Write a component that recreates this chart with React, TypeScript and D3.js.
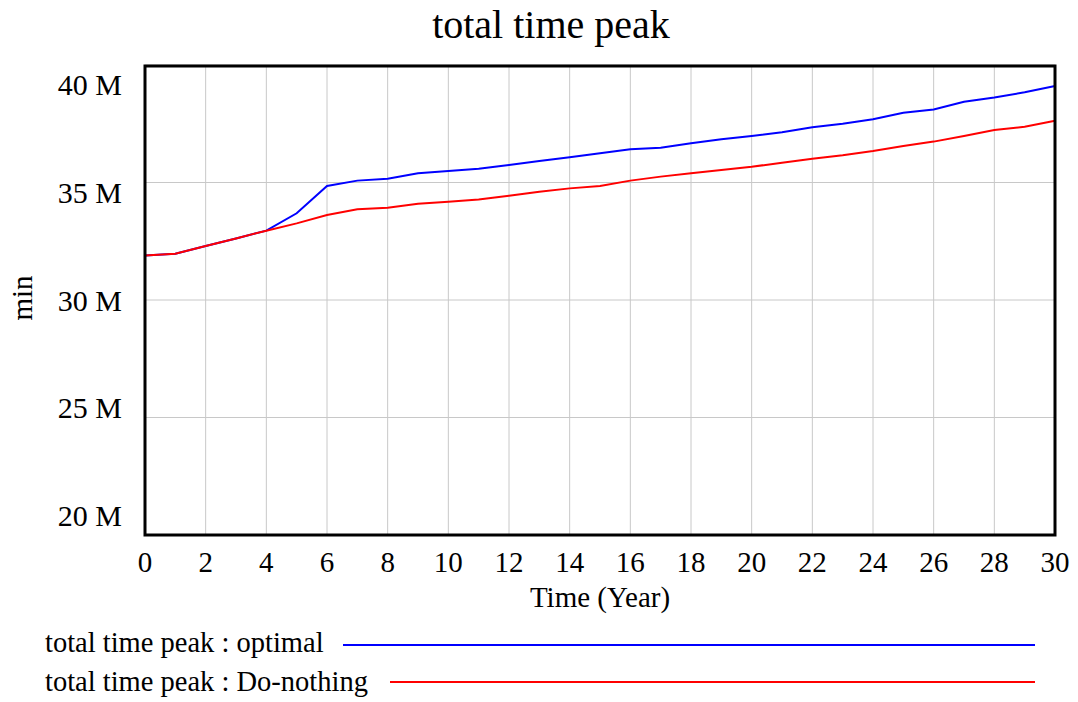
import { line, range, scaleLinear } from 'd3';

const years = range(0, 31);

// millions of minutes
const optimal = [
  31.89, 31.97, 32.3, 32.62, 32.95, 33.69, 34.85, 35.08, 35.16, 35.39, 35.49,
  35.59, 35.74, 35.91, 36.07, 36.24, 36.41, 36.48, 36.67, 36.84, 36.98, 37.14,
  37.35, 37.5, 37.69, 37.97, 38.11, 38.44, 38.62, 38.84, 39.11,
];

const doNothing = [
  31.89, 31.97, 32.3, 32.62, 32.95, 33.26, 33.62, 33.86, 33.93, 34.1, 34.18,
  34.28, 34.44, 34.61, 34.75, 34.85, 35.08, 35.25, 35.39, 35.53, 35.67, 35.84,
  36.01, 36.16, 36.34, 36.55, 36.74, 36.98, 37.23, 37.37, 37.63,
];

const yTicks = [20, 25, 30, 35, 40];
const xTicks = range(0, 31, 2);

const series = [
  { label: 'total time peak : optimal', color: '#0000ff', values: optimal },
  { label: 'total time peak : Do-nothing', color: '#ff0000', values: doNothing },
];

const FONT = '"Liberation Serif", "Times New Roman", serif';

export default function App() {
  const width = 1078;
  const height = 702;
  const left = 145;
  const right = 1055;
  const top = 65;
  const bottom = 535;

  const x = scaleLinear().domain([0, 30]).range([left, right]);
  const y = scaleLinear().domain([20, 40]).range([bottom, top]);
  // tick labels are spread evenly inside the frame, not on the grid lines
  const yLabel = scaleLinear().domain([20, 40]).range([526, 95]);

  const path = line<number>()
    .x((_, i) => x(years[i]))
    .y((d) => y(d));

  const legendRows = [
    { y: 652, lineY: 645, lineStart: 343 },
    { y: 691, lineY: 682, lineStart: 390 },
  ];

  return (
    <svg
      width={width}
      height={height}
      style={{ position: 'absolute', left: 0, top: 0, background: '#fff' }}
      fontFamily={FONT}
    >
      <text x={551} y={38} textAnchor="middle" fontSize={40}>
        total time peak
      </text>

      {xTicks.map((t) => (
        <line
          key={`gx${t}`}
          x1={x(t)}
          x2={x(t)}
          y1={top}
          y2={bottom}
          stroke="#c8c8c8"
          strokeWidth={1}
        />
      ))}
      {yTicks.map((t) => (
        <line
          key={`gy${t}`}
          x1={left}
          x2={right}
          y1={y(t)}
          y2={y(t)}
          stroke="#c8c8c8"
          strokeWidth={1}
        />
      ))}

      {series.map((s) => (
        <path
          key={s.label}
          d={path(s.values) || ''}
          fill="none"
          stroke={s.color}
          strokeWidth={2}
        />
      ))}

      <rect
        x={left}
        y={top + 1}
        width={right - left}
        height={bottom - top - 1}
        fill="none"
        stroke="#000"
        strokeWidth={3}
      />

      {yTicks.map((t) => (
        <text key={`ly${t}`} x={122} y={yLabel(t)} textAnchor="end" fontSize={30}>
          {`${t} M`}
        </text>
      ))}
      {xTicks.map((t) => (
        <text key={`lx${t}`} x={x(t)} y={572} textAnchor="middle" fontSize={29}>
          {t}
        </text>
      ))}

      <text x={600} y={607} textAnchor="middle" fontSize={29}>
        Time (Year)
      </text>
      <text
        transform="translate(32, 298) rotate(-90)"
        textAnchor="middle"
        fontSize={29}
      >
        min
      </text>

      {series.map((s, i) => (
        <g key={`lg${s.label}`}>
          <text x={45} y={legendRows[i].y} fontSize={28.5}>
            {s.label}
          </text>
          <line
            x1={legendRows[i].lineStart}
            x2={1035}
            y1={legendRows[i].lineY}
            y2={legendRows[i].lineY}
            stroke={s.color}
            strokeWidth={2}
          />
        </g>
      ))}
    </svg>
  );
}
